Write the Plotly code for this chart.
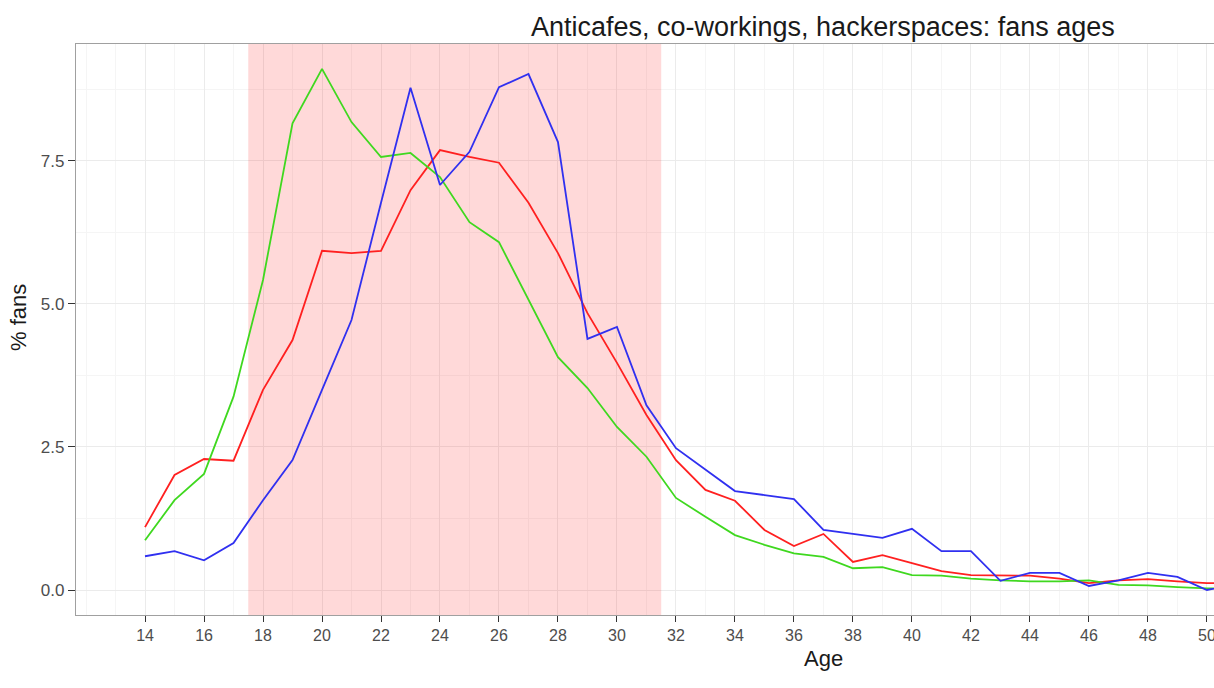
import plotly.graph_objects as go

ages = list(range(14, 52))

series_a = [1.10, 2.01, 2.29, 2.26, 3.50, 4.37, 5.93, 5.89, 5.93, 6.99, 7.69, 7.57, 7.47, 6.77, 5.89,
            4.84, 3.97, 3.06, 2.27, 1.75, 1.56, 1.05, 0.77, 0.98, 0.49, 0.61, 0.47, 0.33, 0.26, 0.25,
            0.25, 0.20, 0.12, 0.17, 0.19, 0.15, 0.12, 0.12]
series_b = [0.87, 1.57, 2.03, 3.38, 5.42, 8.16, 9.11, 8.18, 7.57, 7.64, 7.22, 6.43, 6.08, 5.07, 4.07,
            3.53, 2.85, 2.33, 1.61, 1.28, 0.96, 0.79, 0.64, 0.58, 0.38, 0.40, 0.26, 0.25, 0.20, 0.17,
            0.15, 0.15, 0.17, 0.09, 0.08, 0.05, 0.03, 0.03]
series_c = [0.59, 0.68, 0.52, 0.82, 1.57, 2.27, 3.50, 4.72, 6.77, 8.78, 7.08, 7.66, 8.79, 9.02, 7.83,
            4.39, 4.60, 3.23, 2.48, 2.10, 1.73, 1.66, 1.59, 1.05, 0.98, 0.91, 1.07, 0.68, 0.68, 0.16,
            0.30, 0.30, 0.07, 0.17, 0.30, 0.23, 0.00, 0.10]

band = [17.5, 31.5]
x_range = [11.66, 50.24]
y_range = [-0.437, 9.545]
x_ticks = list(range(14, 51, 2))
y_ticks = [0, 2.5, 5.0, 7.5]
y_tick_text = ["0.0", "2.5", "5.0", "7.5"]

title = "Anticafes, co-workings, hackerspaces: fans ages"

fig = go.Figure()
# shaded age band (drawn first: above the grid, below the lines)
fig.add_trace(go.Scatter(x=[band[0], band[0], band[1], band[1], band[0]],
                         y=[y_range[0] - 1, y_range[1] + 1, y_range[1] + 1, y_range[0] - 1, y_range[0] - 1],
                         mode="lines", fill="toself", fillcolor="rgba(255,0,0,0.15)",
                         line=dict(width=0), hoverinfo="skip", showlegend=False))
for vals, col in [(series_a, "#ff2020"), (series_b, "#3fd81f"), (series_c, "#3030f0")]:
    fig.add_trace(go.Scatter(x=ages, y=vals, mode="lines",
                             line=dict(color=col, width=1.8), showlegend=False))

font = "Liberation Sans, Arial, sans-serif"
fig.update_layout(
    width=1214, height=688,
    margin=dict(l=76, r=0, t=44, b=73),
    plot_bgcolor="white", paper_bgcolor="white",
    font=dict(family=font, color="#4d4d4d", size=17),
    xaxis=dict(range=x_range, tickvals=x_ticks, ticks="outside", ticklen=6,
               tickcolor="#333333", tickwidth=1.3, showgrid=True, gridcolor="#ebebeb",
               gridwidth=1, zeroline=False, showline=True, linecolor="#a0a0a0",
               linewidth=1.3, mirror=True, automargin=False, ticklabeloverflow="allow",
               minor=dict(dtick=1, tick0=13, showgrid=True, gridcolor="#f5f5f5", gridwidth=1),
               tickfont=dict(size=16, color="#4d4d4d")),
    yaxis=dict(range=y_range, tickvals=y_ticks, ticktext=y_tick_text, ticks="outside",
               ticklen=7, tickcolor="#333333", tickwidth=1.3, showgrid=True,
               gridcolor="#ebebeb", gridwidth=1, zeroline=False, showline=True,
               linecolor="#a0a0a0", linewidth=1.3, mirror=True, automargin=False,
               ticklabeloverflow="allow",
               minor=dict(tickvals=[1.25, 3.75, 6.25, 8.75], showgrid=True,
                          gridcolor="#f5f5f5", gridwidth=1),
               tickfont=dict(size=17, color="#4d4d4d")),
)

fig.add_annotation(text=title, xref="paper", yref="paper", x=(823 - 76) / 1138,
                   y=1, yshift=17, showarrow=False, xanchor="center", yanchor="middle",
                   font=dict(size=27, color="#1a1a1a", family=font))
fig.add_annotation(text="Age", xref="paper", yref="paper", x=(823 - 76) / 1138,
                   y=0, yshift=-43, showarrow=False, xanchor="center", yanchor="middle",
                   font=dict(size=22, color="#1a1a1a", family=font))
fig.add_annotation(text="% fans", xref="paper", yref="paper", x=0, xshift=-58,
                   y=(615 - 318) / 571, showarrow=False, textangle=-90,
                   xanchor="center", yanchor="middle",
                   font=dict(size=22, color="#1a1a1a", family=font))

fig.write_html("out.html", config={"displayModeBar": False},
               post_script="document.body.style.margin='0';document.body.style.overflow='hidden';")
